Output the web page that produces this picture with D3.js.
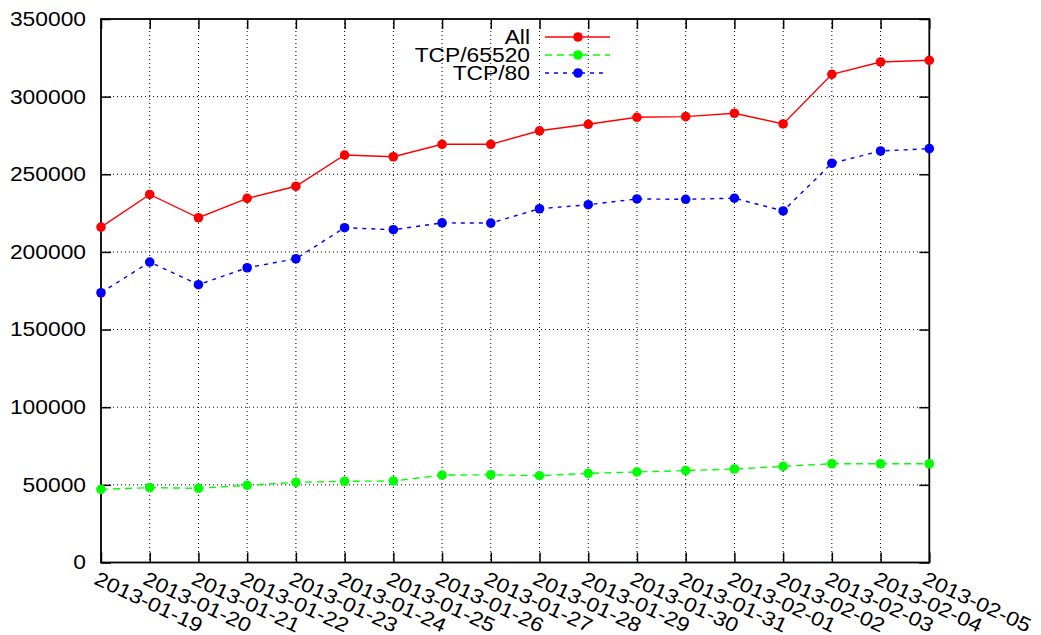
<!DOCTYPE html>
<html>
<head>
<meta charset="utf-8">
<script src="https://cdn.jsdelivr.net/npm/d3@7"></script>
<style>
  html, body { margin: 0; padding: 0; background: #fff; }
  svg { display: block; font-family: "Liberation Sans", Arial, sans-serif; }
</style>
</head>
<body>
<svg id="chart" width="1041" height="635"></svg>
<script>
// Daily connection counts
const dates = ["2013-01-19","2013-01-20","2013-01-21","2013-01-22","2013-01-23","2013-01-24",
  "2013-01-25","2013-01-26","2013-01-27","2013-01-28","2013-01-29","2013-01-30","2013-01-31",
  "2013-02-01","2013-02-02","2013-02-03","2013-02-04","2013-02-05"];
const allValues = [216000,237000,222000,234500,242300,262400,261300,269300,269300,278000,
  282200,286700,287100,289300,282400,314400,322300,323400];
const tcp65520Values = [47100,48200,47800,49700,51600,52300,52500,56300,56500,55900,
  57400,58300,59200,60200,61900,63600,63600,63600];
const tcp80Values = [173700,193500,178900,189800,195600,215600,214300,218700,218600,227800,
  230400,234100,233900,234600,226400,257100,265000,266500];
const yTicks = [0,50000,100000,150000,200000,250000,300000,350000];
const seriesNames = ["All","TCP/65520","TCP/80"];
const seriesColors = ["#ff0000","#00ff00","#0000ff"];
const seriesDash = [null,"7,5","4,5"];

const series = seriesNames.map((name, i) => ({
  name,
  color: seriesColors[i],
  dash: seriesDash[i],
  values: [allValues, tcp65520Values, tcp80Values][i]
}));

const FONT_SIZE = 20;
const STRETCH = 1.14; // wide lettering
function widen(sel) {
  sel.each(function () {
    const len = this.getComputedTextLength();
    d3.select(this).attr("textLength", len * STRETCH).attr("lengthAdjust", "spacingAndGlyphs");
  });
}

const svg = d3.select("#chart");
const plotLeft = 101, plotRight = 929.3, plotTop = 19, plotBottom = 562.5;
const W = plotRight - plotLeft, H = plotBottom - plotTop;

const x = d3.scalePoint().domain(dates).range([0, W]).padding(0);
const y = d3.scaleLinear().domain([0, 350000]).range([H, 0]);

const g = svg.append("g").attr("transform", `translate(${plotLeft},${plotTop})`);

// dotted grid
const dotted = s => s.attr("stroke", "#000").attr("stroke-width", 1).attr("stroke-dasharray", "1,3");
g.append("g")
  .selectAll("line").data(yTicks.filter(v => v > 0 && v < 350000)).join("line")
  .attr("x1", 0).attr("x2", W).attr("y1", d => y(d)).attr("y2", d => y(d))
  .call(dotted);
g.append("g")
  .selectAll("line").data(dates.slice(1, -1)).join("line")
  .attr("y1", 0).attr("y2", H).attr("x1", d => x(d)).attr("x2", d => x(d))
  .call(dotted);

// axes with inward ticks
const axisStyle = sel => {
  sel.select(".domain").remove();
  sel.selectAll(".tick line").attr("stroke", "#000").attr("stroke-width", 1.5);
};
g.append("g")
  .call(d3.axisLeft(y).tickValues(yTicks).tickFormat(d3.format("d"))
    .tickSizeInner(-10).tickSizeOuter(0).tickPadding(15))
  .call(axisStyle)
  .call(s => s.selectAll("text").attr("font-size", FONT_SIZE).attr("fill", "#000")
    .attr("font-family", "Liberation Sans, Arial, sans-serif").call(widen));
g.append("g").attr("transform", `translate(${W},0)`)
  .call(d3.axisRight(y).tickValues(yTicks).tickFormat("").tickSizeInner(-10).tickSizeOuter(0))
  .call(axisStyle);
g.append("g").attr("transform", `translate(0,${H})`)
  .call(d3.axisBottom(x).tickFormat("").tickSizeInner(-10).tickSizeOuter(0))
  .call(axisStyle);
g.append("g")
  .call(d3.axisTop(x).tickFormat("").tickSizeInner(-10).tickSizeOuter(0))
  .call(axisStyle);

// rotated date labels
g.append("g").selectAll("text").data(dates).join("text")
  .attr("transform", d => `translate(${x(d) - 2},${H + 8}) rotate(25)`)
  .attr("dominant-baseline", "hanging")
  .attr("text-anchor", "start")
  .attr("font-size", FONT_SIZE)
  .attr("fill", "#000")
  .text(d => d)
  .call(widen);

// frame
g.append("rect").attr("x", 0).attr("y", 0).attr("width", W).attr("height", H)
  .attr("fill", "none").attr("stroke", "#000").attr("stroke-width", 1.8);

// series lines and markers
const line = d3.line().x((d, i) => x(dates[i])).y(d => y(d));
series.forEach(s => {
  g.append("path").datum(s.values)
    .attr("d", line).attr("fill", "none")
    .attr("stroke", s.color).attr("stroke-width", 1.4)
    .attr("stroke-dasharray", s.dash);
  g.append("g").selectAll("circle").data(s.values).join("circle")
    .attr("cx", (d, i) => x(dates[i])).attr("cy", d => y(d))
    .attr("r", 4.8).attr("fill", s.color);
});

// legend
const legend = svg.append("g");
series.forEach((s, i) => {
  const ly = 37 + i * 18;
  legend.append("text").attr("x", 530).attr("y", ly)
    .attr("dominant-baseline", "central").attr("text-anchor", "end")
    .attr("font-size", FONT_SIZE).attr("fill", "#000").text(s.name)
    .call(widen);
  legend.append("line").attr("x1", 545).attr("x2", i === 2 ? 606 : 610)
    .attr("y1", ly).attr("y2", ly)
    .attr("stroke", s.color).attr("stroke-width", 1.4)
    .attr("stroke-dasharray", s.dash);
  legend.append("circle").attr("cx", 578).attr("cy", ly).attr("r", 4.8).attr("fill", s.color);
});
</script>
</body>
</html>
